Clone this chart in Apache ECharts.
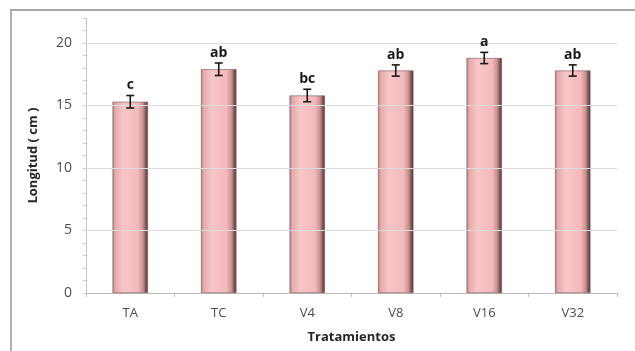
<!DOCTYPE html>
<html>
<head>
<meta charset="utf-8">
<script src="https://cdn.jsdelivr.net/npm/echarts@6/dist/echarts.min.js"></script>
<style>
  html, body { margin: 0; padding: 0; background: #fff; }
  #frame { position: absolute; left: 10px; top: 9px; width: 640px; height: 360px;
           border-top: 2px solid #a6a6a6; border-left: 2px solid #b0b0b0; }
  #chart { position: absolute; left: 0; top: 0; width: 635px; height: 351px; }
</style>
</head>
<body>
<div id="frame"></div>
<div id="chart"></div>
<script>
// Longitud media por tratamiento, error estándar y letras de significancia
const categories = ['TA', 'TC', 'V4', 'V8', 'V16', 'V32'];
const meanLength = [15.3, 17.9, 15.8, 17.8, 18.8, 17.8];
const stdError = [0.5, 0.5, 0.5, 0.45, 0.45, 0.45];
const groupLetters = ['c', 'ab', 'bc', 'ab', 'a', 'ab'];
const yMajorTicks = [5, 10, 15, 20];

const font = '"Open Sans", Lato, sans-serif';

const barFill = {
  type: 'linear', x: 0, y: 0, x2: 1, y2: 0,
  colorStops: [
    { offset: 0, color: '#a97a7b' },
    { offset: 0.07, color: '#e3a9ab' },
    { offset: 0.3, color: '#f8c6c7' },
    { offset: 0.72, color: '#f3b9bb' },
    { offset: 0.86, color: '#c99294' },
    { offset: 0.94, color: '#7a5455' },
    { offset: 1, color: '#553839' }
  ]
};

const chart = echarts.init(document.getElementById('chart'), null, { renderer: 'canvas' });

chart.setOption({
  animation: false,
  backgroundColor: 'transparent',
  grid: { left: 86, right: 18, top: 18, bottom: 58 },
  xAxis: {
    type: 'category',
    data: categories,
    name: 'Tratamientos',
    nameLocation: 'middle',
    nameGap: 38,
    nameTextStyle: { fontFamily: font, fontWeight: 'bold', fontSize: 13, color: '#262626' },
    axisLine: { lineStyle: { color: '#bcbcbc', width: 1 } },
    axisTick: { show: true, length: 4, lineStyle: { color: '#bcbcbc' } },
    axisLabel: { fontFamily: font, fontSize: 13, color: '#4d4d4d', margin: 14 }
  },
  yAxis: {
    type: 'value',
    min: 0,
    max: 22,
    interval: 1,
    name: 'Longitud ( cm )',
    nameLocation: 'middle',
    nameGap: 46,
    nameTextStyle: { fontFamily: font, fontWeight: 'bold', fontSize: 13, color: '#262626' },
    axisLine: { show: true, lineStyle: { color: '#c4c4c4' } },
    axisTick: { show: true, length: 3, lineStyle: { color: '#c8c8c8' } },
    axisLabel: {
      fontFamily: font, fontSize: 14, color: '#4d4d4d', margin: 14,
      formatter: v => (v % 5 === 0 && v <= 20) ? String(v) : ''
    },
    splitLine: { show: false }
  },
  series: [
    {
      type: 'bar',
      data: meanLength,
      barWidth: '40%',
      itemStyle: { color: barFill, borderColor: '#7e5556', borderWidth: 0.6 },
      markLine: {
        silent: true,
        symbol: 'none',
        label: { show: false },
        lineStyle: { color: '#dcdcdc', type: 'solid', width: 1 },
        data: yMajorTicks.map(v => ({ yAxis: v }))
      },
      z: 2
    },
    {
      type: 'custom',
      z: 5,
      data: meanLength.map((m, i) => [i, m, stdError[i], groupLetters[i]]),
      renderItem: function (params, api) {
        const x = api.coord([api.value(0), 0])[0];
        const m = api.value(1), e = api.value(2);
        const top = api.coord([api.value(0), m + e])[1];
        const bot = api.coord([api.value(0), m - e])[1];
        const cap = 4;
        const style = { stroke: '#1a1a1a', lineWidth: 1.6 };
        return {
          type: 'group',
          children: [
            { type: 'line', shape: { x1: x, y1: top, x2: x, y2: bot }, style },
            { type: 'line', shape: { x1: x - cap, y1: top, x2: x + cap, y2: top }, style },
            { type: 'line', shape: { x1: x - cap, y1: bot, x2: x + cap, y2: bot }, style },
            {
              type: 'text',
              x: x, y: top - 3,
              style: {
                text: groupLetters[params.dataIndex],
                fontFamily: font, fontWeight: 'bold', fontSize: 14,
                fill: '#1a1a1a', align: 'center', verticalAlign: 'bottom'
              }
            }
          ]
        };
      }
    }
  ]
});
</script>
</body>
</html>
